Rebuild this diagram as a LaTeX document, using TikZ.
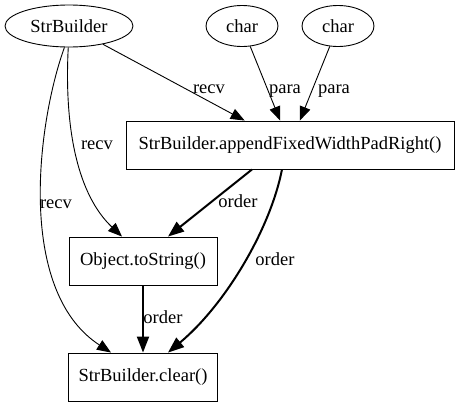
\documentclass[tikz,border=0pt]{standalone}
\usepackage{fontspec}
\setmainfont{Liberation Serif}
\usetikzlibrary{arrows.meta,positioning,shapes,calc}
\definecolor{ink}{HTML}{000000}
\tikzset{
  typenode/.style={draw=ink,ellipse,line width=0.9pt,inner sep=0pt,
                   font=\fontsize{18.5}{20}\selectfont},
  callbox/.style={draw=ink,rectangle,line width=0.9pt,minimum height=48pt,
                  inner sep=0pt,align=center,font=\fontsize{18.5}{20}\selectfont},
  recvarr/.style={-{Triangle[length=14pt,width=11pt]},line width=0.9pt,color=ink},
  orderarr/.style={-{Triangle[length=16pt,width=12pt]},line width=2pt,color=ink},
  lbl/.style={font=\fontsize{18.5}{20}\selectfont,anchor=base,inner sep=0pt}
}
\begin{document}
\begin{tikzpicture}[x=1pt,y=-1pt]
  \useasboundingbox (0,0) rectangle (459,407);

  % value nodes
  \node[typenode,minimum width=128pt,minimum height=42pt] (sb) at (69,26) {StrBuilder};
  \node[typenode,minimum width=72pt,minimum height=41pt] (ch1) at (242,26) {char};
  \node[typenode,minimum width=72pt,minimum height=41pt] (ch2) at (338,26) {char};

  % calls
  \node[callbox,minimum width=328pt] (app) at (290,145) {StrBuilder.appendFixedWidthPadRight()};
  \node[callbox,minimum width=148pt] (ts) at (143,261) {Object.toString()};
  \node[callbox,minimum width=149pt] (clr) at (143,377) {StrBuilder.clear()};

  % receiver / parameter edges
  \draw[recvarr] (sb) -- (app) node[lbl] at (209,93) {recv};
  \draw[recvarr] (ch1) -- (app) node[lbl] at (285,93) {para};
  \draw[recvarr] (ch2) -- (app) node[lbl] at (334,93) {para};
  \draw[recvarr] (sb.268) .. controls (64,130) and (78,195) .. ([xshift=-21pt]ts.north)
    node[lbl] at (97,149) {recv};
  \draw[recvarr] (sb.258) .. controls (38,120) and (15,290) .. ([xshift=-32pt]clr.north)
    node[lbl] at (56,208) {recv};

  % order edges
  \draw[orderarr] ([xshift=-38pt]app.south) -- ([xshift=25pt]ts.north)
    node[lbl] at (238,207) {order};
  \draw[orderarr] ([xshift=-8pt]app.south) .. controls (270,230) and (225,305) .. ([xshift=25pt]clr.north)
    node[lbl] at (275,265) {order};
  \draw[orderarr] (ts) -- (clr) node[lbl] at (163,323) {order};
\end{tikzpicture}
\end{document}
